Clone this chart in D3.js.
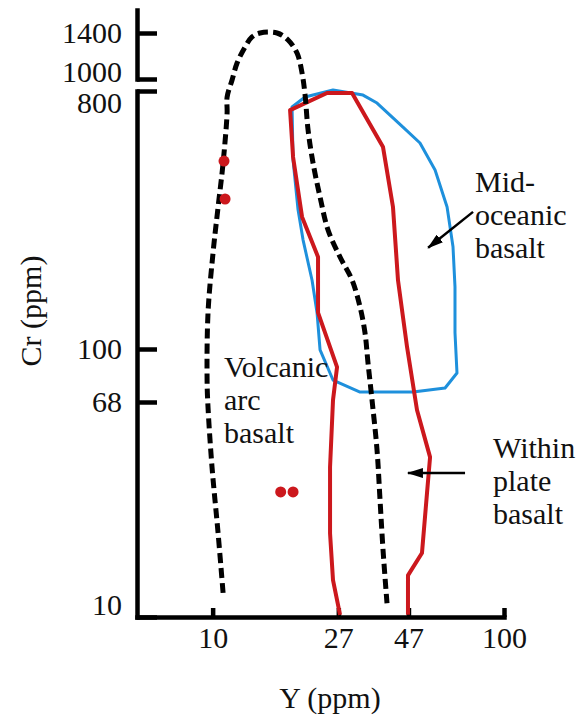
<!DOCTYPE html>
<html>
<head>
<meta charset="utf-8">
<script src="https://cdn.jsdelivr.net/npm/d3@7"></script>
<style>
  body { margin: 0; background: #fff; }
  text { font-family: "Liberation Serif", "Times New Roman", serif; fill: #111; }
</style>
</head>
<body>
<div id="chart"></div>
<script>
// Tick labels
const xTicks = [10, 27, 47, 100];
const yTicksLow = [10, 68, 100, 800];
const yTicksHigh = [1000, 1400];

// Volcanic arc basalt boundary (dashed), Y (ppm) and Cr (ppm)
const arcY = [10.86, 10.44, 9.95, 9.64, 9.57, 9.64, 10.03, 10.44, 10.86, 11.21, 11.21, 11.66, 12.13, 12.92, 13.65,
  14.55, 16.63, 18.15, 19.48, 20.27, 20.76, 21.26, 22.11, 23.37, 24.89, 27.37, 30.09, 32.06, 33.34, 34.14,
  35.24, 36.66, 37.54, 38.44, 39.67];
const arcCr = [12.4, 21.1, 38.1, 65.0, 79.8, 133.7, 216.8, 314.1, 447.7, 669.9, 762.1, 981.8, 1124, 1264, 1360,
  1400, 1400, 1330, 1209, 1045, 774.5, 584.1, 447.7, 340.4, 260.9, 209.9, 174.4, 140.3, 113.8, 90.3,
  69.0, 44.3, 28.4, 18.2, 11.3];

// Mid-oceanic basalt field (blue)
const morbY = [18.73, 20.76, 25.89, 32.82, 36.66, 45.01, 51.48, 58.00, 63.77, 66.83, 67.89, 67.89, 68.97, 62.77,
  48.72, 32.06, 25.89, 23.37, 22.82, 21.94, 20.43, 19.64, 18.88];
const morbCr = [703, 762, 815, 774, 726, 598, 526, 423, 314, 228, 165, 114, 84.0, 75.3,
  73.1, 73.1, 79.8, 99.3, 134, 174, 241, 307, 459];

// Within plate basalt field (red, open at the base)
const wpbY = [27.37, 25.89, 25.29, 25.29, 25.89, 26.73, 23.00, 23.00, 20.27, 18.88, 18.44, 24.70, 30.09, 38.44,
  41.59, 43.27, 46.45, 50.28, 55.75, 54.42, 52.30, 46.82, 46.82];
const wpbCr = [10.2, 13.9, 21.1, 38.1, 69.0, 87.7, 134, 210, 290, 470, 686, 787, 787, 509,
  314, 174, 102, 63.3, 41.6, 30.2, 17.7, 14.5, 10.2];

// Samples
const sampleY = [10.94, 11.03, 17.12, 18.88];
const sampleCr = [455, 335, 30.5, 30.5];

// Field labels and arrows
const fieldLabels = [["Volcanic", "arc", "basalt"], ["Mid-", "oceanic", "basalt"], ["Within", "plate", "basalt"]];
const labelY = [10.94, 79.5, 91.7];
const labelCr = [81.6, 354, 41.3];
const arrowFromY = [78.3, 73.5];
const arrowFromCr = [302, 36.1];
const arrowToY = [54.9, 46.8];
const arrowToCr = [226, 36.1];

const W = 578, H = 716;
const fontSize = 30, lineStep = 33;
const red = "#cc181d", blue = "#1e90dc";
const tickLabelShift = { 10: -12, 800: 12, 1000: -7 };

const svg = d3.select("#chart").append("svg")
  .attr("width", W)
  .attr("height", H);

// Scales (log, with a broken Cr axis above 800)
const x = d3.scaleLog().domain([5.5, 100]).range([137, 504]);
const y = d3.scaleLog()
  .domain([10, 68, 100, 800, 1000, 1400, 1650])
  .range([617, 402, 349, 91, 79, 33, 10]);
const yLow = d3.scaleLog().domain(y.domain().slice(0, 4)).range(y.range().slice(0, 4));
const yHigh = d3.scaleLog().domain(y.domain().slice(4)).range(y.range().slice(4));

function styleAxis(g) {
  g.attr("font-size", fontSize).attr("font-family", null);
  g.select(".domain").attr("stroke", "#000").attr("stroke-width", 4.5).attr("stroke-linecap", "square");
  g.selectAll(".tick line").attr("stroke", "#000").attr("stroke-width", 4.5);
  g.selectAll(".tick text").attr("fill", "#111");
}

// X axis
svg.append("g")
  .attr("class", "x-axis")
  .attr("transform", `translate(0, ${y(10)})`)
  .call(d3.axisBottom(x).tickValues(xTicks).tickFormat(d3.format("d"))
    .tickSizeInner(-9).tickSizeOuter(0).tickPadding(10))
  .call(styleAxis);

// Y axis, lower and upper segments
[[yLow, yTicksLow], [yHigh, yTicksHigh]].forEach(([sc, ticks]) => {
  svg.append("g")
    .attr("class", "y-axis")
    .attr("transform", `translate(${x(5.5)}, 0)`)
    .call(d3.axisLeft(sc).tickValues(ticks).tickFormat(d3.format("d"))
      .tickSizeInner(-20).tickSizeOuter(0).tickPadding(15))
    .call(styleAxis)
    .call(g => g.selectAll(".tick text")
      .attr("y", d => tickLabelShift[d] || 0));
});

// Axis titles
svg.append("text")
  .attr("x", 330)
  .attr("y", 708)
  .attr("text-anchor", "middle")
  .style("font-size", fontSize + "px")
  .text("Y (ppm)");

svg.append("text")
  .attr("transform", "translate(41, 311) rotate(-90)")
  .attr("text-anchor", "middle")
  .style("font-size", fontSize + "px")
  .text("Cr (ppm)");

// Fields
const lineOpen = d3.line().x(d => x(d[0])).y(d => y(d[1]));
const lineClosed = d3.line().x(d => x(d[0])).y(d => y(d[1])).curve(d3.curveLinearClosed);
const lineSmooth = d3.line().x(d => x(d[0])).y(d => y(d[1])).curve(d3.curveCatmullRom.alpha(0.5));

svg.append("path")
  .datum(d3.zip(morbY, morbCr))
  .attr("fill", "none")
  .attr("stroke", blue)
  .attr("stroke-width", 3)
  .attr("stroke-linejoin", "round")
  .attr("d", lineClosed);

svg.append("path")
  .datum(d3.zip(wpbY, wpbCr))
  .attr("fill", "none")
  .attr("stroke", red)
  .attr("stroke-width", 4)
  .attr("stroke-linejoin", "round")
  .attr("d", lineOpen);

svg.append("path")
  .datum(d3.zip(arcY, arcCr))
  .attr("fill", "none")
  .attr("stroke", "#000")
  .attr("stroke-width", 5)
  .attr("stroke-dasharray", "10,5")
  .attr("d", lineSmooth);

// Samples
svg.selectAll(".sample")
  .data(d3.zip(sampleY, sampleCr))
  .join("circle")
  .attr("class", "sample")
  .attr("cx", d => x(d[0]))
  .attr("cy", d => y(d[1]))
  .attr("r", 5.5)
  .attr("fill", red);

// Arrows
svg.append("defs").append("marker")
  .attr("id", "arrow")
  .attr("viewBox", "0 0 16 10")
  .attr("refX", 15)
  .attr("refY", 5)
  .attr("markerWidth", 16)
  .attr("markerHeight", 10)
  .attr("markerUnits", "userSpaceOnUse")
  .attr("orient", "auto")
  .append("path")
  .attr("d", "M0,0L16,5L0,10Z")
  .attr("fill", "#000");

svg.selectAll(".arrow")
  .data(d3.range(arrowFromY.length))
  .join("line")
  .attr("class", "arrow")
  .attr("x1", i => x(arrowFromY[i]))
  .attr("y1", i => y(arrowFromCr[i]))
  .attr("x2", i => x(arrowToY[i]))
  .attr("y2", i => y(arrowToCr[i]))
  .attr("stroke", "#000")
  .attr("stroke-width", 2.5)
  .attr("marker-end", "url(#arrow)");

// Field labels
fieldLabels.forEach((lines, i) => {
  const t = svg.append("text")
    .attr("x", x(labelY[i]))
    .attr("y", y(labelCr[i]))
    .style("font-size", fontSize + "px");
  t.selectAll("tspan")
    .data(lines)
    .join("tspan")
    .attr("x", x(labelY[i]))
    .attr("dy", (d, j) => j === 0 ? 0 : lineStep)
    .text(d => d);
});
</script>
</body>
</html>
